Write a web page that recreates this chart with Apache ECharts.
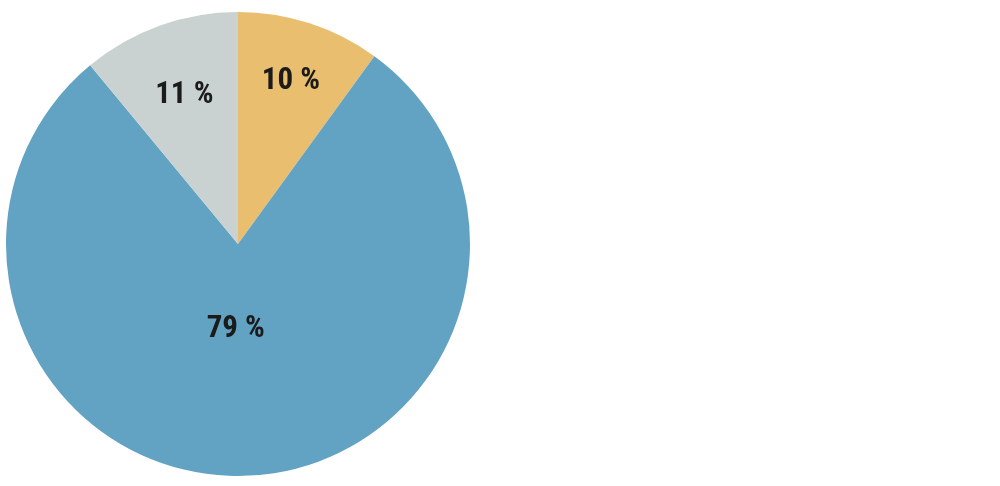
<!DOCTYPE html>
<html>
<head>
<meta charset="utf-8">
<script src="https://cdn.jsdelivr.net/npm/echarts@6/dist/echarts.min.js"></script>
<style>html,body{margin:0;padding:0;background:#fff}#c{width:1000px;height:486px}</style>
</head>
<body>
<div id="c"></div>
<script>
const categories = ['A', 'B', 'C'];
const values = [10, 79, 11];
const labels = ['10 %', '79 %', '11 %'];
const colors = ['#E9BE6E', '#62A3C4', '#C9D1D1'];

const chart = echarts.init(document.getElementById('c'), null, {renderer: 'canvas'});
const baseData = categories.map((c, i) => ({name: c, value: values[i], itemStyle: {color: colors[i]}}));
const labelFont = {fontFamily: "'Roboto Condensed', 'Liberation Sans Narrow', Roboto, sans-serif", fontWeight: 'bold', fontSize: 31, color: '#1b1b1b'};
function labelSeries(radius, idx, shift) {
  return {
    type: 'pie', center: [238, 244], radius: [0, radius], startAngle: 90, clockwise: true,
    silent: true, label: Object.assign({position: 'inside'}, labelFont), labelLine: {show: false},
    labelLayout: shift || null,
    data: categories.map((c, i) => ({
      name: c, value: values[i],
      itemStyle: {color: 'rgba(0,0,0,0)'},
      label: {show: i === idx, formatter: labels[i]}
    }))
  };
}
chart.setOption({
  animation: false,
  series: [
    {
      type: 'pie', center: [238, 244], radius: [0, 232], startAngle: 90, clockwise: true,
      silent: true, label: {show: false}, labelLine: {show: false}, data: baseData
    },
    labelSeries(336, 0),
    labelSeries(170, 1, {dx: -5, dy: -3}),
    labelSeries(311, 2)
  ]
});
</script>
</body>
</html>
